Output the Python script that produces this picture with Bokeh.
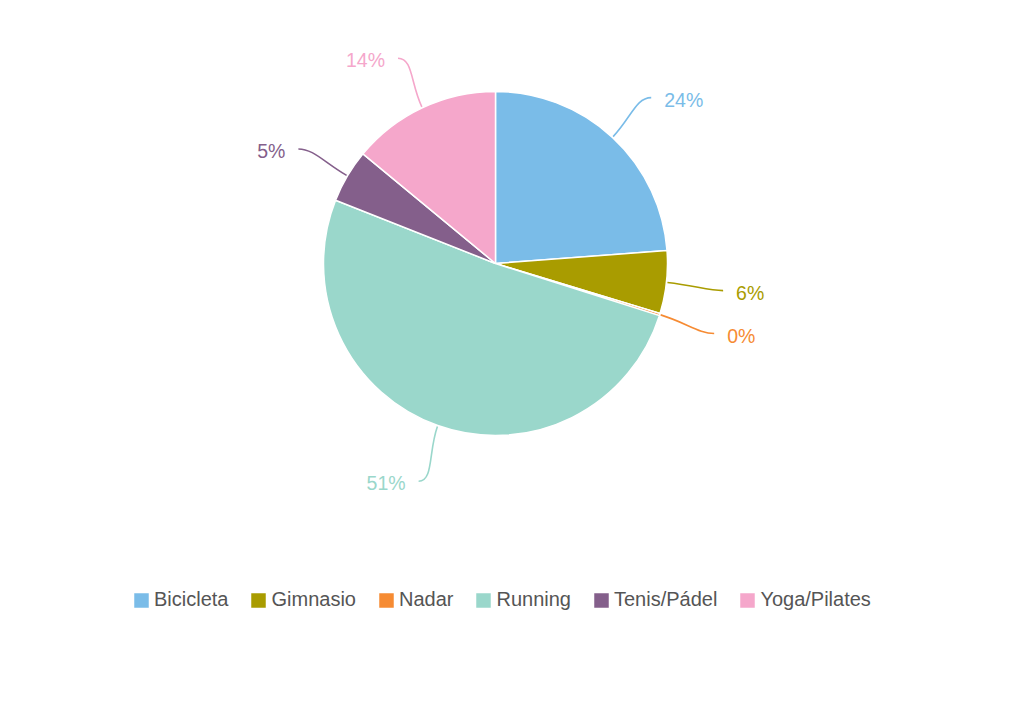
import numpy as np
from bokeh.plotting import figure
from bokeh.models import Range1d, ColumnDataSource, Legend, LegendItem
from bokeh.core.properties import value
from bokeh.embed import file_html
from bokeh.resources import INLINE

# ---- data ----
categories = ["Bicicleta", "Gimnasio", "Nadar", "Running", "Tenis/Pádel", "Yoga/Pilates"]
shares = [23.8, 5.9, 0.2, 51.1, 5.0, 14.0]
labels = ["24%", "6%", "0%", "51%", "5%", "14%"]
colors = ["#7abce8", "#a99c00", "#f68b33", "#9ad7cb", "#845f8b", "#f5a7cb"]

# ---- layout (screen pixel coordinates; y negated so that y grows upward) ----
W, H = 1008, 685
CX, CY = 495, -263
R = 172
R_CTRL = 200
R_END = 229

p = figure(width=W, height=H, output_backend="svg", toolbar_location=None,
           x_range=Range1d(0, W), y_range=Range1d(-H, 0),
           min_border=0, outline_line_color=None)
p.axis.visible = False
p.grid.visible = False
p.background_fill_color = "white"
p.border_fill_color = "white"

vals = np.array(shares, dtype=float)
frac = vals / vals.sum()
cum = np.concatenate([[0], np.cumsum(frac)])
start_t = cum[:-1]
end_t = cum[1:]
start_ang = np.pi / 2 - 2 * np.pi * end_t
end_ang = np.pi / 2 - 2 * np.pi * start_t

src = ColumnDataSource(dict(cat=categories, start=start_ang, end=end_ang, color=colors,
                            x=[CX] * len(categories), y=[CY] * len(categories)))
wedges = p.wedge(x="x", y="y", radius=R, start_angle="start", end_angle="end",
                 fill_color="color", line_color="white", line_width=1.5, source=src)

# ---- connectors and labels ----
mid = (start_t + end_t) / 2 * 2 * np.pi
sx = np.sin(mid)
sy = np.cos(mid)
side = np.where(sx >= 0, 1, -1)
x0 = CX + (R + 1) * sx
y0 = CY + (R + 1) * sy
cx0 = CX + R_CTRL * sx
cy0 = CY + R_CTRL * sy
x1 = CX + R_END * sx
y1 = CY + R_END * sy - 2
cx1 = x1 - side * 15
cy1 = y1
bsrc = ColumnDataSource(dict(x0=x0, y0=y0, x1=x1, y1=y1, cx0=cx0, cy0=cy0,
                             cx1=cx1, cy1=cy1, color=colors))
p.bezier(x0="x0", y0="y0", x1="x1", y1="y1", cx0="cx0", cy0="cy0", cx1="cx1", cy1="cy1",
         line_color="color", line_width=1.6, source=bsrc)

tx = x1 + side * 13
ty = y1 - 2
align = ["left" if s > 0 else "right" for s in side]
tsrc = ColumnDataSource(dict(x=tx, y=ty, text=labels, color=colors, align=align))
p.text(x="x", y="y", text="text", text_color="color", text_align="align",
       text_baseline="middle", text_font=value("Liberation Sans"),
       text_font_size="19.5px", source=tsrc)

# ---- legend ----
items = [LegendItem(label=c, renderers=[wedges], index=i) for i, c in enumerate(categories)]
legend = Legend(items=items, orientation="horizontal", location=(131, 74),
                glyph_width=20, glyph_height=20, label_standoff=3, spacing=20,
                padding=0, margin=0, border_line_color=None, background_fill_alpha=0,
                label_text_font="Liberation Sans", label_text_font_size="20px",
                label_text_color="#555555", label_height=18)
p.add_layout(legend)

open("out.html", "w").write(file_html(p, INLINE))
